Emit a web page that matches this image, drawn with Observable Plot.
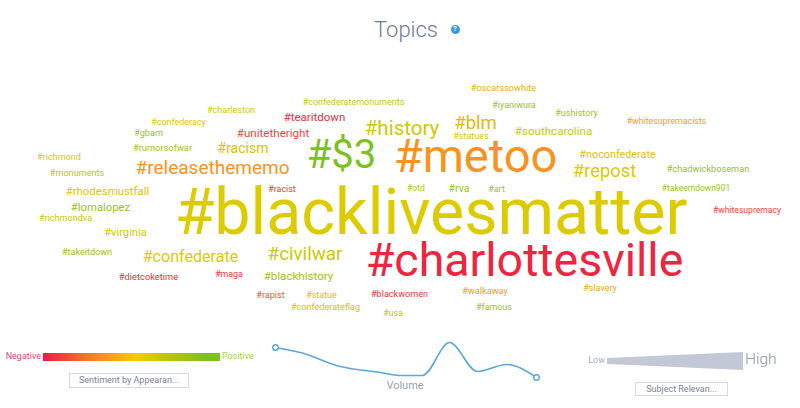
<!DOCTYPE html>
<html><head><meta charset="utf-8">
<script src="https://cdn.jsdelivr.net/npm/d3@7"></script>
<script src="https://cdn.jsdelivr.net/npm/@observablehq/plot@0.6"></script>
<style>
html,body{margin:0;padding:0;background:#fff;}
#root{position:relative;width:800px;height:408px;overflow:hidden;font-family:Roboto,sans-serif;}
.abs{position:absolute;white-space:nowrap;line-height:1;}
#root svg{position:absolute;}
</style></head><body><div id="root"></div>
<script>
// Word-cloud topics (hashtags), their sentiment score (-1 negative .. 1 positive),
// relevance (drawn as font size), and the cloud layout position of each word.
const topics = ["#blacklivesmatter","#charlottesville","#metoo","#$3","#releasethememo","#history","#blm","#repost",
  "#confederate","#civilwar","#racism","#southcarolina","#noconfederate","#lomalopez","#rhodesmustfall","#virginia",
  "#blackhistory","#unitetheright","#tearitdown","#confederatemonuments","#oscarssowhite","#iyaniwura","#ushistory",
  "#whitesupremacists","#statues","#chadwickboseman","#takeemdown901","#whitesupremacy","#charleston","#confederacy",
  "#gbam","#rumorsofwar","#richmond","#monuments","#richmondva","#takeitdown","#dietcoketime","#maga","#racist",
  "#otd","#rva","#art","#rapist","#statue","#confederateflag","#blackwomen","#usa","#walkaway","#famous","#slavery"];
const sentiment = [0.15,-1,-0.35,1,-0.35,0.3,-0.05,0.12,
  0.15,0.3,0.05,0.3,0.05,0.8,0.1,0.2,
  0.7,-0.8,-0.95,0.35,-0.1,0.75,0.65,
  -0.25,0.2,0.8,0.75,-0.85,0.25,0.1,
  0.8,0.7,0.2,0.5,0.35,0.7,-0.95,-0.9,-0.9,
  0.6,0.75,0.75,-0.7,0.05,0.0,-0.9,0.4,-0.25,0.7,-0.15];
const relevance = [64.5,46.5,47,40,19,20.5,18.5,18.4,
  16.1,18.8,14,11.6,10.8,11.3,11.4,11.2,
  11.6,11.6,11.5,9,9.2,9,9.1,
  8.8,9.1,9.2,8.5,8.6,9.1,9,
  9.1,9.3,9.1,9.1,9.1,9.1,9.3,8.8,8.9,
  8.6,10.5,9,9.1,9,9.1,9.1,8.7,9.2,8.9,9];
const layoutX = [430.5,524,475,341,212,401.5,475,604,
  190,304.5,242.5,553,617,100,107,125,
  298,272.5,314,353,503,513.5,576,
  666,470.5,707.5,695.5,746.5,230.5,178,
  148,162,58.5,76.5,65,86.5,148,228.5,281.5,
  415.5,458.5,496,270,321,325,399,392.5,484.5,493.5,599.5];
const layoutY = [213,261,156,155,167,128.4,122.4,171,
  256,253.3,148,131,153.8,207,190.7,232,
  275.6,133,116.6,102,87.3,104.5,113,
  120.3,136,168.7,187.7,210,110,122,
  133,148,157,173,218,251.3,277,274,189,
  187.3,188.6,189,294.3,295,306.3,293.3,313,290.7,306.3,287.7];

// Volume sparkline (day index, volume)
const volumeDay = [0,5.7,14.9,24.1,28.7,33.8,40,46.4,53.1,60];
const volumeVal = [32,27,13,7,4,4,37,8,15,2];

const sentimentStops = [-1,-0.35,0.15,1];
const sentimentColors = ["#f0243e","#f7931e","#dccb00","#7cc21e"];

const words = topics.map((t,i)=>({t, s:sentiment[i], r:relevance[i], x:layoutX[i], y:layoutY[i]}));
const vol = volumeDay.map((d,i)=>({d, v:volumeVal[i]}));

const root = document.getElementById("root");

const cloud = Plot.plot({
  width: 800, height: 408, margin: 0,
  x: {domain:[0,800], axis:null},
  y: {domain:[0,408], range:[0,408], axis:null},
  color: {type:"linear", domain: sentimentStops, range: sentimentColors},
  style: {fontFamily: "Roboto", background: "transparent"},
  marks: [
    Plot.text(words, {x:"x", y:"y", text:"t", fill:"s", fontSize: d=>d.r, fontFamily:"Roboto", textAnchor:"middle"})
  ]
});
cloud.style.left = "0px"; cloud.style.top = "0px";
root.appendChild(cloud);

const spark = Plot.plot({
  width: 272, height: 48, marginLeft: 5, marginRight: 6, marginTop: 4, marginBottom: 4,
  x: {domain:[0,60], axis:null},
  y: {domain:[0,40], axis:null},
  style: {background:"transparent"},
  marks: [
    Plot.line(vol, {x:"d", y:"v", curve:"monotone-x", stroke:"#5aa8da", strokeWidth:1.6}),
    Plot.dot([vol[0], vol[vol.length-1]], {x:"d", y:"v", r:2.8, fill:"white", stroke:"#5aa8da", strokeWidth:1.4})
  ]
});
spark.style.left = "270px"; spark.style.top = "335px";
root.appendChild(spark);

function add(html, css){
  const d = document.createElement("div");
  d.className = "abs"; d.innerHTML = html; Object.assign(d.style, css); root.appendChild(d); return d;
}
// Title
add("Topics", {left:"356px", top:"19px", width:"100px", textAlign:"center", fontSize:"22px", fontWeight:"300", color:"#6f7b9b"});
add("?", {left:"450.5px", top:"25px", width:"9px", height:"9px", borderRadius:"50%", background:"#3d9ad6", color:"#fff",
  fontSize:"7px", fontWeight:"700", textAlign:"center", lineHeight:"9px"});
// Sentiment legend
add("Negative", {left:"0px", top:"352px", width:"41px", textAlign:"right", fontSize:"9px", color:"#f0446c"});
add("", {left:"43px", top:"353px", width:"177px", height:"8px",
  background:"linear-gradient(to right, #f0164a 0%, #f5652c 20%, #f7941d 35%, #f3cc00 52%, #bcc600 70%, #7cc21e 92%)"});
add("Positive", {left:"222px", top:"352px", fontSize:"9px", color:"#a6d04a"});
add("Sentiment by Appearan...", {left:"69px", top:"373px", width:"118px", height:"13px", border:"1px solid #d6dae2",
  textAlign:"center", fontSize:"9px", lineHeight:"13px", color:"#7b8397"});
// Volume label
add("Volume", {left:"375px", top:"380px", width:"60px", textAlign:"center", fontSize:"11px", color:"#9aa2b2"});
// Relevance legend
add("Low", {left:"575px", top:"356px", width:"30px", textAlign:"right", fontSize:"9px", color:"#a9aebb"});
add('<svg width="140" height="22" style="position:static"><polygon points="0,6 136,0 136,18 0,12" fill="#c3c8d6"/></svg>',
  {left:"607px", top:"352px"});
add("High", {left:"745px", top:"352px", fontSize:"15.5px", fontWeight:"300", color:"#8a93ad"});
add("Subject Relevan...", {left:"635px", top:"382px", width:"91px", height:"12px", border:"1px solid #d6dae2",
  textAlign:"center", fontSize:"9px", lineHeight:"12px", color:"#7b8397"});
</script>
</body></html>
